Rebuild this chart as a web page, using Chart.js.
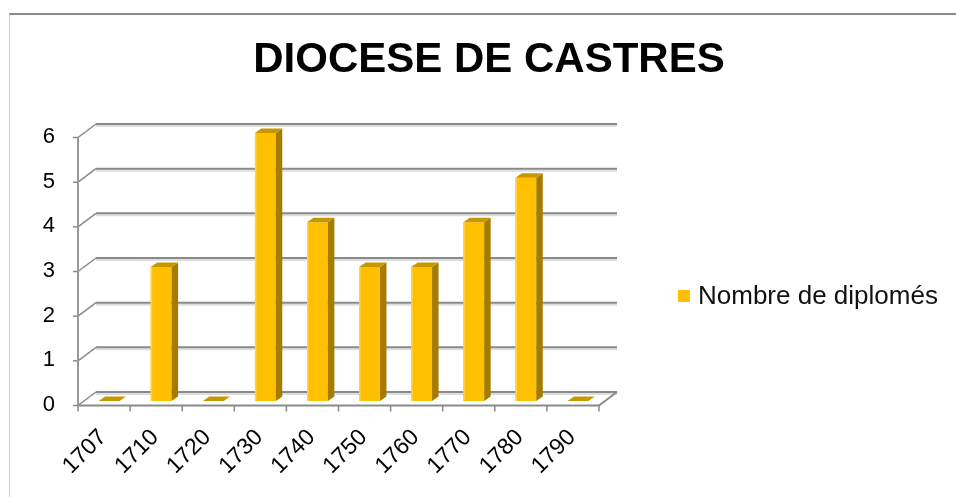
<!DOCTYPE html>
<html lang="fr">
<head>
<meta charset="UTF-8">
<title>Diocese de Castres</title>
<script src="https://cdn.jsdelivr.net/npm/chart.js"></script>
<style>
    html, body { margin: 0; padding: 0; background: #fff; }
    .wrap { position: relative; width: 956px; height: 497px; }
    .frame {
        position: absolute; left: 9px; top: 13px; right: 0; bottom: 0;
        border-top: 2px solid #8a8a8a; border-left: 1px solid #cfcfcf;
        pointer-events: none;
    }
</style>
</head>
<body>
<div class="wrap">
    <canvas id="myChart" width="956" height="497"></canvas>
    <div class="frame"></div>
</div>

<script>
    // data
    const years = ['1707', '1710', '1720', '1730', '1740', '1750', '1760', '1770', '1780', '1790'];
    const diplomes = [0, 3, 0, 6, 4, 3, 3, 4, 5, 0];
    const yTicks = [0, 1, 2, 3, 4, 5, 6];
    const chartTitle = 'DIOCESE DE CASTRES';
    const seriesName = 'Nombre de diplomés';

    const FONT = '"Liberation Sans", Arial, sans-serif';
    // 3d offsets (px)
    const front = { dx: -5, dy: 4.5 };
    const back = { dx: 13, dy: -9 };
    const depth = { dx: 6.5, dy: -4.5 };

    // back wall, side wall and floor lines
    const wallsPlugin = {
        id: 'walls',
        beforeDatasetsDraw(chart) {
            const ctx = chart.ctx;
            const a = chart.chartArea;
            const ys = chart.scales.y;
            ctx.save();
            ctx.lineCap = 'butt';
            yTicks.forEach(v => {
                const yc = ys.getPixelForValue(v);
                // soft shadow under back line
                ctx.strokeStyle = '#dedede';
                ctx.lineWidth = 2;
                ctx.beginPath();
                ctx.moveTo(a.left + back.dx, yc + back.dy + 2);
                ctx.lineTo(a.right + back.dx, yc + back.dy + 2);
                ctx.stroke();
                ctx.strokeStyle = '#8a8a8a';
                ctx.lineWidth = 2;
                ctx.beginPath();
                ctx.moveTo(a.left + back.dx, yc + back.dy);
                ctx.lineTo(a.right + back.dx, yc + back.dy);
                ctx.stroke();
                // side wall diagonal
                ctx.lineWidth = 1.5;
                ctx.beginPath();
                ctx.moveTo(a.left + front.dx, yc + front.dy);
                ctx.lineTo(a.left + back.dx, yc + back.dy);
                ctx.stroke();
                // tick mark
                ctx.beginPath();
                ctx.moveTo(a.left + front.dx - 5, yc + front.dy);
                ctx.lineTo(a.left + front.dx, yc + front.dy);
                ctx.stroke();
            });
            const y0 = ys.getPixelForValue(0);
            const y6 = ys.getPixelForValue(6);
            ctx.strokeStyle = '#999';
            ctx.lineWidth = 2;
            // front vertical axis
            ctx.beginPath();
            ctx.moveTo(a.left + front.dx, y6 + front.dy);
            ctx.lineTo(a.left + front.dx, y0 + front.dy);
            ctx.stroke();
            // floor front edge + right diagonal
            ctx.strokeStyle = '#8a8a8a';
            ctx.beginPath();
            ctx.moveTo(a.left + front.dx, y0 + front.dy);
            ctx.lineTo(a.right + front.dx, y0 + front.dy);
            ctx.lineTo(a.right + back.dx, y0 + back.dy);
            ctx.stroke();
            // category ticks
            const cw = (a.right - a.left) / years.length;
            ctx.lineWidth = 1.5;
            for (let i = 0; i <= years.length; i++) {
                const x = a.left + front.dx + i * cw;
                ctx.beginPath();
                ctx.moveTo(x, y0 + front.dy);
                ctx.lineTo(x, y0 + front.dy + 6);
                ctx.stroke();
            }
            ctx.restore();
        }
    };

    // side and top faces of the bars
    const bars3dPlugin = {
        id: 'bars3d',
        afterDatasetsDraw(chart) {
            const ctx = chart.ctx;
            const meta = chart.getDatasetMeta(0);
            ctx.save();
            meta.data.forEach(bar => {
                const p = bar.getProps(['x', 'y', 'base', 'width'], true);
                const l = p.x - p.width / 2;
                const r = p.x + p.width / 2;
                // side
                ctx.fillStyle = '#a67c00';
                ctx.beginPath();
                ctx.moveTo(r, p.y);
                ctx.lineTo(r + depth.dx, p.y + depth.dy);
                ctx.lineTo(r + depth.dx, p.base + depth.dy);
                ctx.lineTo(r, p.base);
                ctx.closePath();
                ctx.fill();
                // top
                ctx.fillStyle = '#c79700';
                ctx.beginPath();
                ctx.moveTo(l, p.y);
                ctx.lineTo(l + depth.dx, p.y + depth.dy);
                ctx.lineTo(r + depth.dx, p.y + depth.dy);
                ctx.lineTo(r, p.y);
                ctx.closePath();
                ctx.fill();
                // light left edge
                if (p.base - p.y > 1) {
                    ctx.fillStyle = '#ffd24d';
                    ctx.fillRect(l, p.y, 1.5, p.base - p.y);
                }
            });
            ctx.restore();
        }
    };

    // title and legend
    const labelsPlugin = {
        id: 'labels',
        afterDraw(chart) {
            const ctx = chart.ctx;
            ctx.save();
            ctx.fillStyle = '#000';
            ctx.font = 'bold 42px ' + FONT;
            ctx.textAlign = 'center';
            ctx.textBaseline = 'alphabetic';
            ctx.fillText(chartTitle, 489, 72);
            // legend
            ctx.fillStyle = '#ffc000';
            ctx.fillRect(678, 290, 12, 12);
            ctx.fillStyle = '#111';
            ctx.font = '26px ' + FONT;
            ctx.textAlign = 'left';
            ctx.fillText(seriesName, 698, 304);
            ctx.restore();
        }
    };

    const ctx = document.getElementById('myChart').getContext('2d');
    const myChart = new Chart(ctx, {
        type: 'bar',
        data: {
            labels: years,
            datasets: [{
                label: seriesName,
                data: diplomes,
                backgroundColor: '#ffc000',
                borderWidth: 0,
                categoryPercentage: 1,
                barPercentage: 0.4
            }]
        },
        options: {
            responsive: false,
            animation: false,
            layout: { padding: { left: 0, top: 133, right: 352, bottom: 0 } },
            plugins: {
                legend: { display: false },
                title: { display: false },
                tooltip: { enabled: false }
            },
            scales: {
                x: {
                    grid: { display: false, drawTicks: false },
                    border: { display: false },
                    ticks: {
                        color: '#000',
                        font: { size: 23, family: FONT },
                        minRotation: 45,
                        maxRotation: 45,
                        padding: 23,
                        labelOffset: -6
                    },
                    afterFit(scale) { scale.height = 96; }
                },
                y: {
                    min: 0,
                    max: 6,
                    grid: { display: false, drawTicks: false },
                    border: { display: false },
                    ticks: {
                        stepSize: 1,
                        color: '#000',
                        font: { size: 22, family: FONT },
                        padding: 28,
                        labelOffset: 4
                    },
                    afterFit(scale) { scale.width = 83; }
                }
            }
        },
        plugins: [wallsPlugin, bars3dPlugin, labelsPlugin]
    });
</script>
</body>
</html>
